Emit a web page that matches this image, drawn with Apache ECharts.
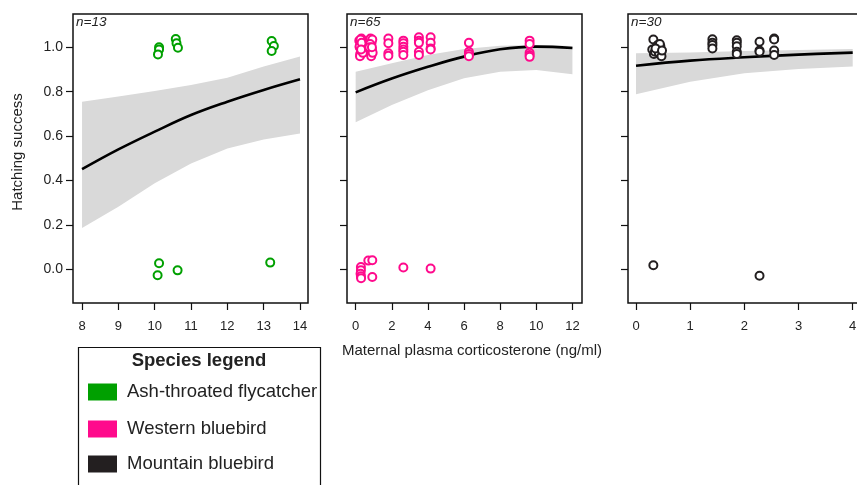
<!DOCTYPE html>
<html>
<head>
<meta charset="utf-8">
<script src="https://cdn.jsdelivr.net/npm/echarts@6/dist/echarts.min.js"></script>
<style>html,body{margin:0;padding:0;background:#fff}#c{width:857px;height:485px}</style>
</head>
<body>
<div id="c"></div>
<script>
// ---- data ----
const species = ['Ash-throated flycatcher', 'Western bluebird', 'Mountain bluebird'];
const speciesColors = ['#00a000', '#ff0a8c', '#231f20'];
const sampleSizes = ['n=13', 'n=65', 'n=30'];
const yTicks = [0, 0.2, 0.4, 0.6, 0.8, 1.0];
const xTicks1 = [8, 9, 10, 11, 12, 13, 14];
const xTicks2 = [0, 2, 4, 6, 8, 10, 12];
const xTicks3 = [0, 1, 2, 3, 4];

// Ash-throated flycatcher observations [cort, hatching success (jittered)]
const pts1 = [
  [10.12, 1.00], [10.12, 0.99], [10.09, 0.968], [10.58, 1.037], [10.60, 1.018], [10.64, 0.998],
  [13.22, 1.028], [13.28, 1.006], [13.22, 0.983],
  [10.12, 0.027], [10.08, -0.027], [10.63, -0.005], [13.18, 0.030]
];
// Western bluebird observations
const pts2 = [
  [0.20, 1.03], [0.22, 1.00], [0.25, 0.97], [0.28, 1.02], [0.30, 0.99], [0.32, 1.04], [0.24, 0.96],
  [0.35, 1.01], [0.27, 1.035], [0.38, 0.98], [0.22, 1.005], [0.33, 1.02], [0.40, 0.975], [0.30, 0.99],
  [0.75, 1.03], [0.78, 0.99], [0.80, 1.01], [0.82, 1.04], [0.85, 0.97], [0.88, 1.02], [0.90, 0.99],
  [0.92, 1.035], [0.86, 0.96], [0.80, 1.015], [0.76, 1.00], [0.94, 0.975], [0.90, 1.00],
  [1.81, 1.04], [1.81, 1.018], [1.81, 0.973], [1.81, 0.962],
  [2.64, 1.03], [2.64, 1.018], [2.64, 1.003], [2.64, 0.99], [2.64, 0.98], [2.64, 0.965],
  [3.50, 1.045], [3.50, 1.03], [3.50, 1.02], [3.50, 0.98], [3.50, 0.965],
  [4.15, 1.045], [4.15, 1.02], [4.15, 0.995], [4.15, 0.99],
  [6.27, 1.02], [6.27, 0.98], [6.27, 0.97], [6.27, 0.96],
  [9.63, 1.03], [9.63, 1.015], [9.63, 0.975], [9.63, 0.965], [9.63, 0.957],
  [0.29, 0.010], [0.29, -0.005], [0.27, -0.02], [0.29, -0.032], [0.30, -0.04],
  [0.70, 0.039], [0.92, 0.041], [0.92, -0.035], [2.64, 0.008], [4.15, 0.003]
];
// Mountain bluebird observations
const pts3 = [
  [0.32, 1.035], [0.30, 0.99], [0.33, 0.97], [0.35, 0.98], [0.38, 1.00], [0.40, 1.01],
  [0.42, 0.975], [0.45, 1.005], [0.47, 0.96], [0.44, 1.015], [0.36, 0.995], [0.48, 0.985],
  [1.41, 1.036], [1.41, 1.02], [1.41, 1.01], [1.41, 0.995],
  [1.86, 1.032], [1.86, 1.02], [1.86, 1.005], [1.86, 0.98], [1.86, 0.97],
  [2.28, 1.025], [2.28, 0.985], [2.28, 0.98],
  [2.55, 1.04], [2.55, 1.035], [2.55, 0.985], [2.55, 0.965],
  [0.32, 0.018], [2.28, -0.029]
];

// fitted curves and confidence bands
const fitX1 = [8, 9, 10, 11, 12, 13, 14];
const fitY1 = [0.451, 0.54, 0.62, 0.695, 0.755, 0.808, 0.856];
const ciUp1 = [0.755, 0.778, 0.803, 0.83, 0.863, 0.913, 0.958];
const ciLo1 = [0.186, 0.282, 0.387, 0.477, 0.544, 0.585, 0.612];

const fitX2 = [0, 2, 4, 6, 8, 10, 12];
const fitY2 = [0.797, 0.859, 0.912, 0.958, 0.991, 1.003, 0.997];
const ciUp2 = [0.89, 0.928, 0.965, 0.992, 1.007, 1.01, 1.006];
const ciLo2 = [0.662, 0.74, 0.807, 0.86, 0.89, 0.898, 0.878];

const fitX3 = [0, 1, 2, 3, 4];
const fitY3 = [0.917, 0.94, 0.955, 0.967, 0.976];
const ciUp3 = [0.973, 0.977, 0.983, 0.988, 0.992];
const ciLo3 = [0.789, 0.845, 0.883, 0.902, 0.913];

// ---- chart ----
const chart = echarts.init(document.getElementById('c'), null, {renderer: 'canvas'});
const FONT = 'Liberation Sans, Arial, sans-serif';
const TXT = '#222';

const panels = [
  {left: 73, xmin: 7.751, xmax: 14.22, ticks: xTicks1, pts: pts1, fx: fitX1, fy: fitY1, up: ciUp1, lo: ciLo1},
  {left: 347, xmin: -0.48, xmax: 12.53, ticks: xTicks2, pts: pts2, fx: fitX2, fy: fitY2, up: ciUp2, lo: ciLo2},
  {left: 628, xmin: -0.148, xmax: 4.19, ticks: xTicks3, pts: pts3, fx: fitX3, fy: fitY3, up: ciUp3, lo: ciLo3}
];

const grids = [], xAxes = [], yAxes = [], series = [], graphics = [];
panels.forEach((p, i) => {
  grids.push({left: p.left, top: 14, width: 235, height: 289, show: true, containLabel: false,
    outerBoundsMode: 'none',
    borderColor: '#111', borderWidth: 1.5, backgroundColor: 'transparent'});
  xAxes.push({type: 'value', gridIndex: i, min: p.xmin, max: p.xmax, position: 'bottom',
    axisLine: {show: false, onZero: false}, splitLine: {show: false},
    axisTick: {show: true, inside: false, length: 7, customValues: p.ticks, lineStyle: {color: '#111', width: 1.2}},
    axisLabel: {show: true, customValues: p.ticks, margin: 17, fontSize: 13, color: TXT, fontFamily: FONT}
  });
  yAxes.push({type: 'value', gridIndex: i, min: -0.152, max: 1.15, position: 'left',
    axisLine: {show: false, onZero: false}, splitLine: {show: false},
    axisTick: {show: true, length: 7, customValues: yTicks, lineStyle: {color: '#111', width: 1.2}},
    axisLabel: {show: i === 0, customValues: yTicks, margin: 10, fontSize: 14, color: TXT, fontFamily: FONT,
      formatter: v => v.toFixed(1)}
  });
  // confidence band
  series.push({
    type: 'custom', xAxisIndex: i, yAxisIndex: i, silent: true, z: 1,
    data: [[p.fx[0], p.lo[0]]],
    renderItem: (params, api) => {
      const poly = [];
      for (let k = 0; k < p.fx.length; k++) poly.push(api.coord([p.fx[k], p.up[k]]));
      for (let k = p.fx.length - 1; k >= 0; k--) poly.push(api.coord([p.fx[k], p.lo[k]]));
      return {type: 'polygon', shape: {points: poly, smooth: 0}, style: {fill: '#d9d9d9', stroke: null}};
    }
  });
  // fitted line
  series.push({
    type: 'line', xAxisIndex: i, yAxisIndex: i, z: 3, smooth: 0.4, symbol: 'none', silent: true,
    data: p.fx.map((x, k) => [x, p.fy[k]]),
    lineStyle: {color: '#000', width: 2.6}
  });
  // points
  series.push({
    type: 'scatter', xAxisIndex: i, yAxisIndex: i, z: 4, name: species[i], silent: true,
    data: p.pts, symbol: 'emptyCircle', symbolSize: 8,
    itemStyle: {color: speciesColors[i], borderColor: speciesColors[i], borderWidth: 1.3, opacity: 1}
  });
  graphics.push({type: 'text', left: p.left + 3, top: 15, z: 10,
    style: {text: sampleSizes[i], font: 'italic 13.5px ' + FONT, fill: TXT}});
});

// y-axis title
graphics.push({type: 'text', x: 18, y: 152, rotation: Math.PI / 2, z: 10,
  style: {text: 'Hatching success', font: '15px ' + FONT, fill: TXT, align: 'center', verticalAlign: 'middle'}});

// x-axis title
graphics.push({type: 'text', x: 472, y: 351, z: 10,
  style: {text: 'Maternal plasma corticosterone (ng/ml)', font: '15px ' + FONT, fill: TXT,
    align: 'center', verticalAlign: 'middle'}});

// custom species legend box
graphics.push({type: 'rect', shape: {x: 78.5, y: 347.5, width: 242, height: 200}, z: 10,
  style: {fill: '#fff', stroke: '#111', lineWidth: 1.2}});
graphics.push({type: 'text', x: 199, y: 361, z: 11,
  style: {text: 'Species legend', font: 'bold 18.5px ' + FONT, fill: TXT, align: 'center', verticalAlign: 'middle'}});
const legendY = [392, 429, 464];
species.forEach((s, i) => {
  graphics.push({type: 'rect', shape: {x: 88, y: legendY[i] - 8.5, width: 29, height: 17}, z: 11,
    style: {fill: speciesColors[i]}});
  graphics.push({type: 'text', x: 127, y: legendY[i], z: 11,
    style: {text: s, font: '18.5px ' + FONT, fill: TXT, verticalAlign: 'middle'}});
});

chart.setOption({
  animation: false,
  backgroundColor: '#fff',
  grid: grids, xAxis: xAxes, yAxis: yAxes, series: series, graphic: graphics
});
</script>
</body>
</html>
